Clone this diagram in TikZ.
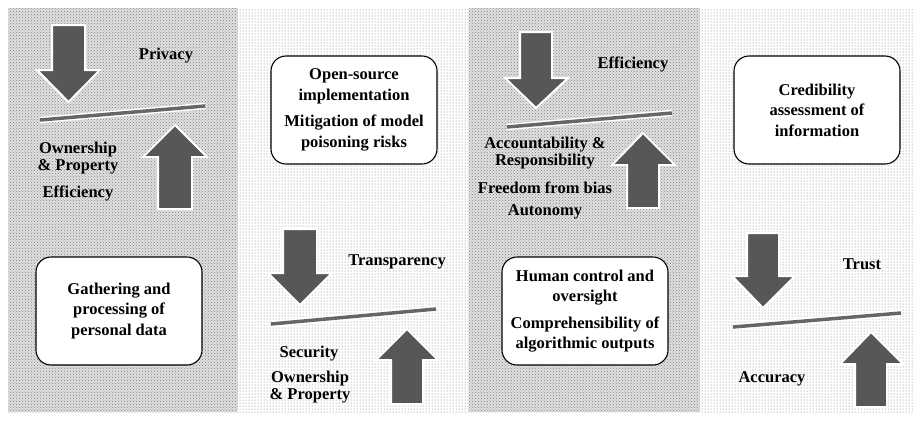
\documentclass[tikz,border=0pt]{standalone}
\usepackage{fontspec}
\setmainfont{Liberation Serif}
\usetikzlibrary{patterns}
\definecolor{arrowgray}{HTML}{575757}
\definecolor{beamgray}{HTML}{666666}
\begin{document}
\begin{tikzpicture}[x=1pt,y=-1pt,
  lbl/.style={font=\bfseries\fontsize{16.5}{17.5}\selectfont, align=center, inner sep=0pt},
  card/.style={draw=black, line width=1.1pt, fill=white, rounded corners=15pt,
    minimum width=166pt, minimum height=108pt, inner sep=0pt, align=center,
    font=\bfseries\fontsize{16.5}{20.5}\selectfont},
  bigarrow/.style={fill=arrowgray, draw=white, line width=2pt, line join=miter},
  beamglow/.style={draw=white, line width=6.5pt},
  beam/.style={draw=beamgray, line width=3.5pt},
  densebase/.style={fill=black!12},
  densepanel/.style={pattern=crosshatch dots, pattern color=black!50},
  sparsepanel/.style={pattern=dots, pattern color=black!55}]

\useasboundingbox (0,0) rectangle (917,421);
\fill[white] (0,0) rectangle (917,421);

% textured column backgrounds
\fill[densebase]   (8,8)   rectangle (238,412);
\fill[densepanel]  (8,8)   rectangle (238,412);
\fill[sparsepanel] (238,8) rectangle (469,412);
\fill[densebase]   (469,8) rectangle (700,412);
\fill[densepanel]  (469,8) rectangle (700,412);
\fill[sparsepanel] (700,8) rectangle (913,412);

% ---------- column 1 ----------
\path[bigarrow] (52,25) -- (85,25) -- (85,70) -- (100,70) -- (68.5,102) -- (37,70) -- (52,70) -- cycle;
\coordinate (b1l) at (40,120); \coordinate (b1r) at (205,106);
\draw[beamglow] (b1l) -- (b1r); \draw[beam] (b1l) -- (b1r);
\path[bigarrow] (175,125) -- (207,157) -- (192,157) -- (192,209) -- (158,209) -- (158,157) -- (143,157) -- cycle;
\node[lbl] (privacy) at (166,56) {Privacy};
\node[lbl] (own1) at (78,158) {Ownership\\\& Property};
\node[lbl] (eff1) at (78,193) {Efficiency};
\node[card] (gather) at (119,311) {Gathering and\\processing of\\personal data};

% ---------- column 2 ----------
\node[card] (opensrc) at (354,110) {Open-source\\implementation\\[6pt]Mitigation of model\\poisoning risks};
\path[bigarrow] (283,229) -- (317,229) -- (317,273) -- (332,273) -- (300,305) -- (268,273) -- (283,273) -- cycle;
\coordinate (b2l) at (271,324); \coordinate (b2r) at (436,309);
\draw[beamglow] (b2l) -- (b2r); \draw[beam] (b2l) -- (b2r);
\path[bigarrow] (407,329) -- (438,360) -- (423,360) -- (423,404) -- (391,404) -- (391,360) -- (376,360) -- cycle;
\node[lbl] (transp) at (397,262) {Transparency};
\node[lbl] (secur) at (309,354) {Security};
\node[lbl] (own2) at (310,387) {Ownership\\\& Property};

% ---------- column 3 ----------
\path[bigarrow] (520,32) -- (552,32) -- (552,78) -- (568,78) -- (536,108) -- (505,78) -- (520,78) -- cycle;
\coordinate (b3l) at (507,127); \coordinate (b3r) at (672,113);
\draw[beamglow] (b3l) -- (b3r); \draw[beam] (b3l) -- (b3r);
\path[bigarrow] (643,133) -- (675,165) -- (659,165) -- (659,208) -- (627,208) -- (627,165) -- (612,165) -- cycle;
\node[lbl] (eff3) at (633,64) {Efficiency};
\node[lbl] (account) at (545,153) {Accountability \&\\Responsibility};
\node[lbl] (freedom) at (545,188) {Freedom from bias};
\node[lbl] (auton) at (545,212) {Autonomy};
\node[card] (human) at (585,311) {Human control and\\oversight\\[6pt]Comprehensibility of\\algorithmic outputs};

% ---------- column 4 ----------
\node[card] (cred) at (817,110) {Credibility\\assessment of\\information};
\path[bigarrow] (747,233) -- (779,233) -- (779,276) -- (795,276) -- (763,308) -- (732,276) -- (747,276) -- cycle;
\coordinate (b4l) at (733,327); \coordinate (b4r) at (901,313);
\draw[beamglow] (b4l) -- (b4r); \draw[beam] (b4l) -- (b4r);
\path[bigarrow] (871,332) -- (903,364) -- (887,364) -- (887,407) -- (855,407) -- (855,364) -- (840,364) -- cycle;
\node[lbl] (trust) at (862,264) {Trust};
\node[lbl] (accur) at (772,379) {Accuracy};
\end{tikzpicture}
\end{document}
